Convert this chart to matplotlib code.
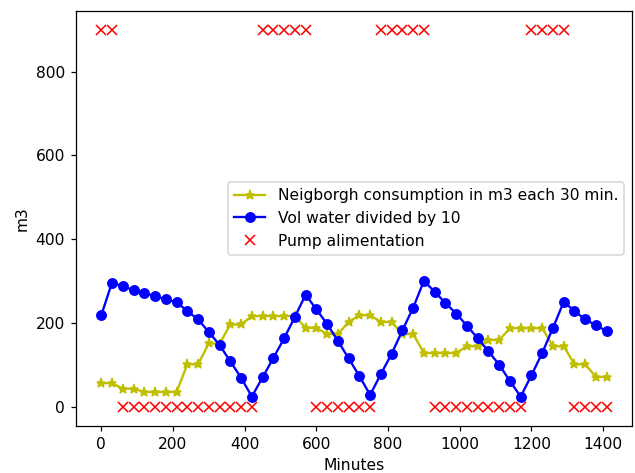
import matplotlib
matplotlib.use("Agg")
import matplotlib.pyplot as plt
import numpy as np

minutes = list(range(0, 1440, 30))

consumption = [57, 57, 44, 44, 36, 36, 36, 36, 102, 102, 152, 151,
               197, 197, 217, 217, 217, 217, 217, 189, 189, 174, 174, 203,
               219, 219, 203, 203, 174, 174, 129, 129, 129, 129, 145, 145,
               160, 160, 188, 188, 188, 188, 145, 145, 102, 102, 72, 72]

vol_div10 = [219, 297, 288, 279, 272, 264, 257, 250, 229, 209, 179, 148,
             109, 70, 25, 71, 117, 164, 215, 268, 233, 198, 158, 116,
             74, 29, 79, 127, 183, 237, 301, 275, 248, 223, 194, 164,
             133, 101, 62, 25, 76, 129, 189, 251, 229, 209, 195, 181]

pump = [900, 900, 0, 0, 0, 0, 0, 0, 0, 0, 0, 0,
        0, 0, 0, 900, 900, 900, 900, 900, 0, 0, 0, 0,
        0, 0, 900, 900, 900, 900, 900, 0, 0, 0, 0, 0,
        0, 0, 0, 0, 900, 900, 900, 900, 0, 0, 0, 0]

DPI = 112
fig = plt.figure(figsize=(635 / DPI, 473 / DPI), dpi=DPI)
ax = fig.add_axes([0.1197, 0.0994, 0.8756, 0.878])
ax.plot(minutes, consumption, 'y*-', label='Neigborgh consumption in m3 each 30 min.')
ax.plot(minutes, vol_div10, 'bo-', label='Vol water divided by 10')
ax.plot(minutes, pump, 'rx', label='Pump alimentation')
ax.set_xlabel('Minutes')
ax.set_ylabel('m3')
ax.legend(loc='center right')
fig.savefig('out.png', dpi=DPI)
